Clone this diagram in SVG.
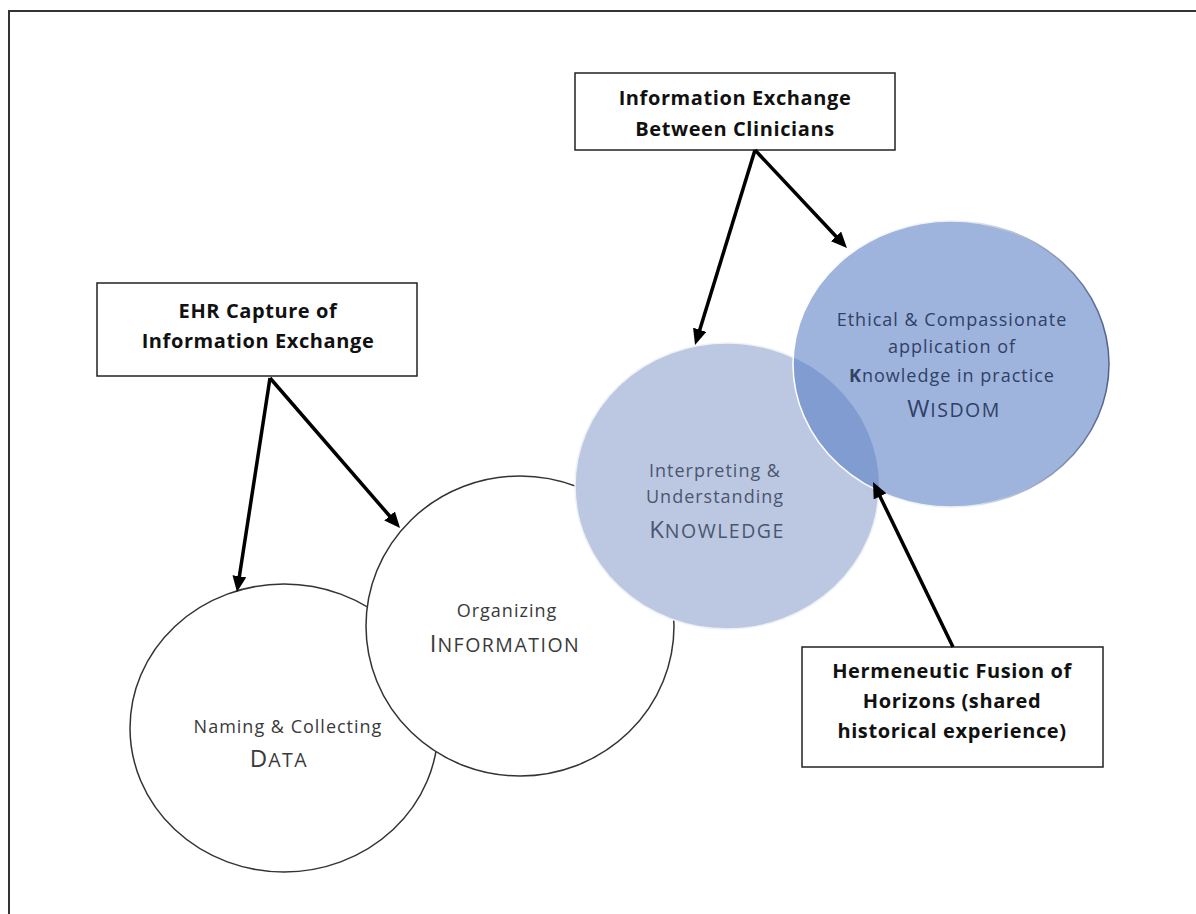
<svg xmlns="http://www.w3.org/2000/svg" width="1196" height="914" viewBox="0 0 1196 914">
<style>
.box{fill:#fff;stroke:#222;stroke-width:1.5}
.bt{font-family:"Open Sans","Liberation Sans",sans-serif;font-weight:bold;font-size:20px;letter-spacing:0.6px;fill:#111;text-anchor:middle}
.ct{font-family:"Open Sans","Liberation Sans",sans-serif;font-size:18px;letter-spacing:1px;text-anchor:middle}
.gray{fill:#3a3a3a}
.kt{fill:#4b5670}
.wt{fill:#2f4166}
.big{font-size:24px}
.cap{font-size:19.5px;letter-spacing:1.5px}
.conn line{stroke:#000;stroke-width:3.5;marker-end:url(#ah)}
</style>
<defs>
<marker id="ah" markerUnits="userSpaceOnUse" markerWidth="16" markerHeight="14" refX="8" refY="7" orient="auto">
<path d="M0,0 L16,7 L0,14 z" fill="#000"/>
</marker>
<clipPath id="kclip"><ellipse cx="727" cy="486" rx="152" ry="143"/></clipPath>
<linearGradient id="wstroke" x1="0" y1="0" x2="1" y2="0">
<stop offset="0" stop-color="#ffffff"/>
<stop offset="0.55" stop-color="#e8eef8"/>
<stop offset="1" stop-color="#4f6290"/>
</linearGradient>
</defs>
<rect width="1196" height="914" fill="#fff"/>
<path d="M9,914 V11 H1196" fill="none" stroke="#333" stroke-width="2"/>

<g id="data">
<ellipse cx="284" cy="728" rx="154" ry="144" fill="#fff" stroke="#333" stroke-width="1.5"/>
<text class="ct gray" x="288" y="733">Naming &amp; Collecting</text>
<text class="ct gray" x="279" y="767"><tspan class="big">D</tspan><tspan class="cap">ATA</tspan></text>
</g>
<g id="information">
<ellipse cx="520" cy="626" rx="154" ry="150" fill="#fff" stroke="#333" stroke-width="1.5"/>
<text class="ct gray" x="507" y="617">Organizing</text>
<text class="ct gray" x="505" y="652"><tspan class="big">I</tspan><tspan class="cap">NFORMATION</tspan></text>
</g>
<g id="knowledge">
<ellipse cx="727" cy="486" rx="152" ry="143" fill="#bcc8e1" stroke="#eef2f8" stroke-width="1.5"/>
<text class="ct kt" x="715" y="477">Interpreting &amp;</text>
<text class="ct kt" x="715" y="503">Understanding</text>
<text class="ct kt" x="717" y="538"><tspan class="big">K</tspan><tspan class="cap">NOWLEDGE</tspan></text>
</g>
<g id="wisdom">
<ellipse cx="951" cy="364" rx="158" ry="143" fill="#9fb4dd"/>
<ellipse cx="951" cy="364" rx="158" ry="143" fill="#809cd0" clip-path="url(#kclip)"/>
<ellipse cx="951" cy="364" rx="158" ry="143" fill="none" stroke="url(#wstroke)" stroke-width="1.5"/>
<text class="ct wt" x="952" y="326">Ethical &amp; Compassionate</text>
<text class="ct wt" x="952" y="353">application of</text>
<text class="ct wt" x="952" y="382"><tspan font-weight="bold">K</tspan>nowledge in practice</text>
<text class="ct wt" x="954" y="417"><tspan class="big">W</tspan><tspan class="cap">ISDOM</tspan></text>
</g>

<g id="ehr-box">
<rect class="box" x="97" y="283" width="320" height="93"/>
<text class="bt" x="258" y="318">EHR Capture of</text>
<text class="bt" x="258" y="348">Information Exchange</text>
</g>
<g id="clinicians-box">
<rect class="box" x="575" y="73" width="320" height="77"/>
<text class="bt" x="735" y="105">Information Exchange</text>
<text class="bt" x="735" y="136">Between Clinicians</text>
</g>
<g id="hermeneutic-box">
<rect class="box" x="802" y="647" width="301" height="120"/>
<text class="bt" x="952" y="678">Hermeneutic Fusion of</text>
<text class="bt" x="952" y="708">Horizons (shared</text>
<text class="bt" x="952" y="738">historical experience)</text>
</g>

<g id="connectors" class="conn">
<line x1="270" y1="378" x2="238.2" y2="584.1"/>
<line x1="270" y1="378" x2="394.8" y2="522"/>
<line x1="755" y1="150" x2="697.4" y2="337.4"/>
<line x1="755" y1="150" x2="841.5" y2="242.2"/>
<line x1="953" y1="647" x2="876.5" y2="489.2"/>
</g>
</svg>
